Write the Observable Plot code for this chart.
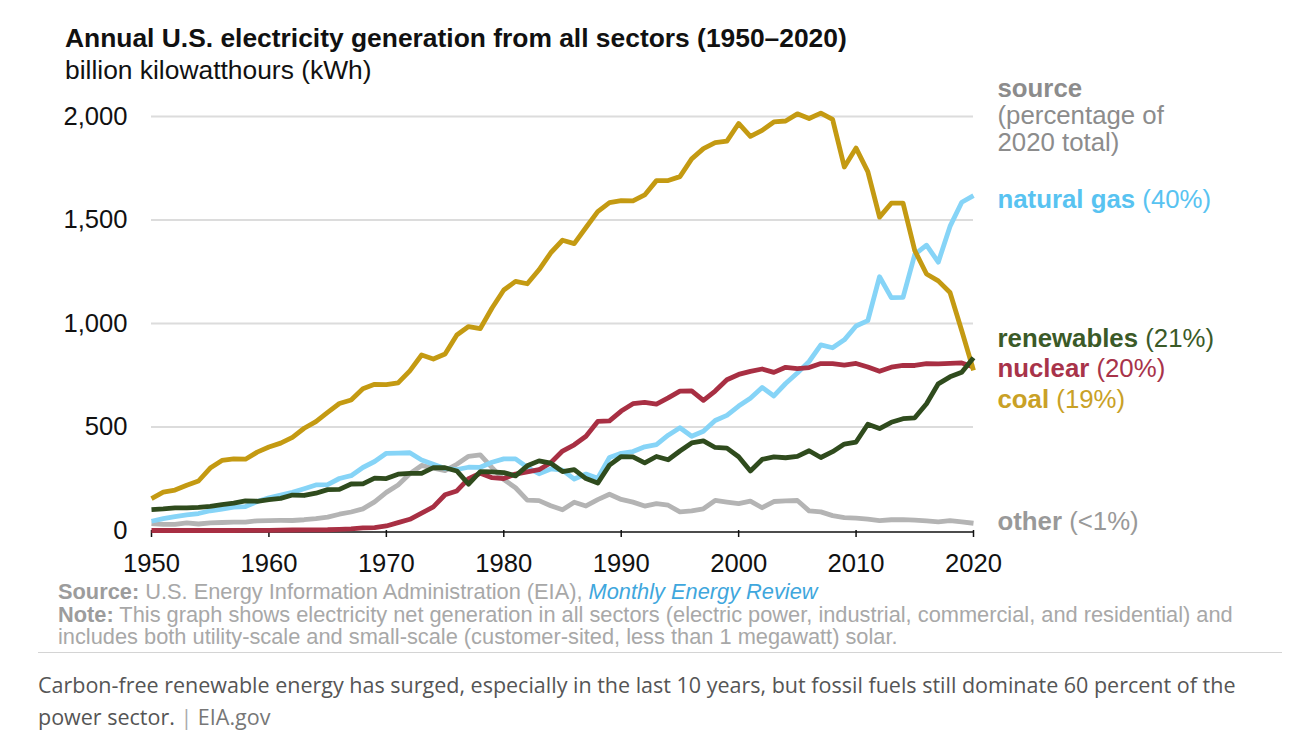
<!DOCTYPE html>
<html><head><meta charset="utf-8">
<script src="https://cdn.jsdelivr.net/npm/d3@7"></script>
<script src="https://cdn.jsdelivr.net/npm/@observablehq/plot@0.6"></script>
<style>
body{margin:0;background:#fff;width:1296px;height:739px;position:relative;overflow:hidden;font-family:"Liberation Sans",Arial,sans-serif;}
#title{position:absolute;left:65px;top:23px;font-size:26.4px;font-weight:bold;line-height:30px;color:#111;white-space:nowrap;}
#subtitle{position:absolute;left:65px;top:55px;font-size:26.4px;line-height:30px;color:#111;white-space:nowrap;}
#chart{position:absolute;left:0;top:80px;}
#notes{position:absolute;left:58px;top:581px;font-size:21.8px;line-height:22.5px;color:#a8a8a8;white-space:nowrap;}
#notes b{color:#9c9c9c}
#notes i{color:#3fa7dd}
#rule{position:absolute;left:38px;top:652px;width:1244px;border-top:1px solid #d4d4d4;}
#caption{position:absolute;left:38px;top:669px;font-family:"Open Sans",sans-serif;font-size:21.5px;line-height:32px;color:#555;white-space:nowrap;}
#caption .bar{color:#aaa}
#caption .src{color:#777}
</style></head>
<body>
<div id="title">Annual U.S. electricity generation from all sectors (1950–2020)</div>
<div id="subtitle">billion kilowatthours (kWh)</div>
<div id="chart"></div>
<div id="notes"><b>Source:</b> U.S. Energy Information Administration (EIA), <i>Monthly Energy Review</i><br><b>Note:</b> This graph shows electricity net generation in all sectors (electric power, industrial, commercial, and residential) and<br>includes both utility-scale and small-scale (customer-sited, less than 1 megawatt) solar.</div>
<div id="rule"></div>
<div id="caption">Carbon-free renewable energy has surged, especially in the last 10 years, but fossil fuels still dominate 60 percent of the<br>power sector. <span class="bar">|</span> <span class="src">EIA.gov</span></div>
<script>
const years = d3.range(1950, 2021);

const coal = [154.5,185.2,195.4,218.8,239.1,301.4,338.5,346.4,344.4,378.4,
403.1,422.2,450.2,493.9,526.2,570.9,613.5,630.5,684.9,706.0,
704.4,713.1,771.1,847.7,828.4,852.8,944.4,985.2,975.7,1075.0,
1161.6,1203.2,1192.0,1259.4,1341.7,1402.1,1385.8,1463.8,1540.7,1583.8,
1594.0,1592.0,1621.2,1690.1,1690.7,1709.4,1795.2,1845.0,1873.5,1881.1,
1966.3,1904.0,1933.1,1973.7,1978.3,2012.9,1990.5,2016.5,1985.8,1755.9,
1847.3,1733.4,1514.0,1581.1,1581.7,1352.4,1239.1,1205.8,1149.5,965.0,
773.4];

const naturalGas = [44.6,57.0,67.3,75.8,82.0,95.3,103.7,113.1,115.8,139.9,
158.0,170.5,184.3,201.6,220.0,221.6,251.2,264.8,304.4,333.3,
372.9,374.0,375.7,340.9,320.1,299.8,294.6,305.5,305.4,329.5,
346.2,345.8,305.3,274.1,297.4,291.9,248.5,272.6,252.8,352.6,
372.8,381.6,404.1,414.9,460.2,496.1,455.1,479.4,531.3,556.4,
601.0,639.1,691.0,649.9,710.1,761.0,816.4,896.6,883.0,921.0,
987.7,1013.7,1225.9,1124.8,1126.6,1333.5,1378.3,1296.4,1469.1,1585.8,
1617.5];

const nuclear = [0,0,0,0,0,0,0,0,0.2,0.2,
0.5,1.7,2.3,3.2,3.3,3.7,5.5,7.7,12.5,13.9,
21.8,38.1,54.1,83.5,114.0,172.5,191.1,250.9,276.4,255.2,
251.1,272.7,282.8,293.7,327.6,383.7,414.0,455.3,527.0,529.4,
576.9,612.6,618.8,610.3,640.4,673.4,674.7,628.6,673.7,728.3,
753.9,768.8,780.1,763.7,788.5,782.0,787.2,806.4,806.2,798.9,
807.0,790.2,769.3,789.0,797.2,797.2,805.7,805.0,807.1,809.4,
789.9];

const renewables = [100.9,104.4,109.7,109.6,112.0,116.9,125.4,132.1,142.9,141.3,
149.4,155.1,171.2,169.2,180.1,197.3,198.4,224.7,225.0,253.2,
251.0,272.1,276.2,275.7,303.4,303.2,287.6,224.1,284.1,283.1,
279.7,263.8,312.4,336.3,325.0,284.7,294.3,250.7,229.1,316.0,
357.2,355.2,327.1,357.5,341.6,384.1,422.9,433.2,401.1,398.0,
356.5,287.7,343.4,355.3,351.5,357.7,385.4,352.7,380.9,417.7,
427.4,513.1,492.3,522.6,540.0,544.4,612.3,708.6,742.2,764.0,
834.4];

const other = [33.7,29.3,29.8,37.1,31.4,37.1,38.7,40.5,40.4,46.9,
48.0,48.5,48.4,52.0,57.7,64.8,78.7,89.3,104.3,138.3,
184.2,220.2,274.3,314.3,300.9,289.1,320.0,358.2,365.1,303.5,
246.0,206.4,146.8,144.5,119.8,100.2,136.6,118.5,148.9,175.0,
150.0,137.0,118.0,130.0,122.0,90.0,95.0,105.0,145.0,137.0,
130.0,142.0,110.0,140.0,143.0,145.0,95.0,90.0,72.0,62.0,
60.0,55.0,48.0,52.0,53.0,50.0,46.0,42.0,48.0,42.0,
35.0];

const seriesNames = ["other", "natural gas", "nuclear", "coal", "renewables"];
const seriesValues = [other, naturalGas, nuclear, coal, renewables];
const lineColors = ["#b4b4b4", "#86d4f7", "#a82f43", "#c49a12", "#2f4b1d"];
const labelColors = ["#999999", "#58c3f1", "#a8334a", "#c9a126", "#3b5a28"];
const shares = ["(<1%)", "(40%)", "(20%)", "(19%)", "(21%)"];
const xTicks = [1950, 1960, 1970, 1980, 1990, 2000, 2010, 2020];
const yTicks = [0, 500, 1000, 1500, 2000];
const gridValues = [500, 1000, 1500, 2000];
const headerLines = ["source", "(percentage of", "2020 total)"];

const tidy = [];
seriesNames.forEach((s, k) => years.forEach((yr, i) => tidy.push({series: s, year: yr, value: seriesValues[k][i]})));

const labelDy = {"natural gas": 4, "renewables": -19, "nuclear": 2, "coal": 29, "other": -2};
const headerDy = [-28, -1, 26];
const font = "Liberation Sans, Arial, sans-serif";

const labelMarks = seriesNames.map((s, k) => Plot.text([s], {
  x: () => years[years.length - 1],
  y: () => seriesValues[k][seriesValues[k].length - 1],
  text: d => d,
  dx: 24, dy: labelDy[s], textAnchor: "start",
  fill: labelColors[k], fontWeight: "bold", fontSize: 25.8
}));
const headerMarks = headerLines.map((t, k) => Plot.text([t], {
  x: () => xTicks[xTicks.length - 1],
  y: () => yTicks[yTicks.length - 1],
  text: d => d,
  dx: 24, dy: headerDy[k], textAnchor: "start",
  fill: "#8c8c8c", fontWeight: k === 0 ? "bold" : "normal", fontSize: 25.8
}));

const plot = Plot.plot({
  width: 1296, height: 500,
  marginLeft: 151, marginRight: 323, marginTop: 36, marginBottom: 50,
  x: {domain: [1950, 2020]},
  y: {domain: [0, 2000]},
  color: {domain: seriesNames, range: lineColors},
  style: {fontFamily: font, background: "transparent", overflow: "visible"},
  marks: [
    Plot.ruleY(gridValues, {stroke: "#dcdcdc", strokeWidth: 2}),
    Plot.axisY({ticks: yTicks, tickSize: 0, tickPadding: 24, tickFormat: d3.format(","), fontSize: 25.6, fill: "#111", label: null}),
    Plot.axisX({ticks: xTicks, tickSize: 7, tickPadding: 16, tickFormat: d => String(d), fontSize: 25.6, fill: "#111", stroke: "#111", strokeWidth: 1.5, label: null}),
    Plot.ruleY([0], {stroke: "#111", strokeWidth: 1.5, dy: 1.5}),
    Plot.line(tidy, {x: "year", y: "value", z: "series", stroke: "series", strokeWidth: 4.8, strokeLinejoin: "round", strokeLinecap: "butt"}),
    ...headerMarks,
    ...labelMarks
  ]
});
document.getElementById("chart").appendChild(plot);

d3.select(plot).selectAll("text").each(function() {
  const k = seriesNames.indexOf(this.textContent);
  if (k >= 0 && this.querySelector("tspan") === null) {
    d3.select(this).append("tspan").attr("font-weight", "normal").text(" " + shares[k]);
  }
});
</script>
</body></html>
